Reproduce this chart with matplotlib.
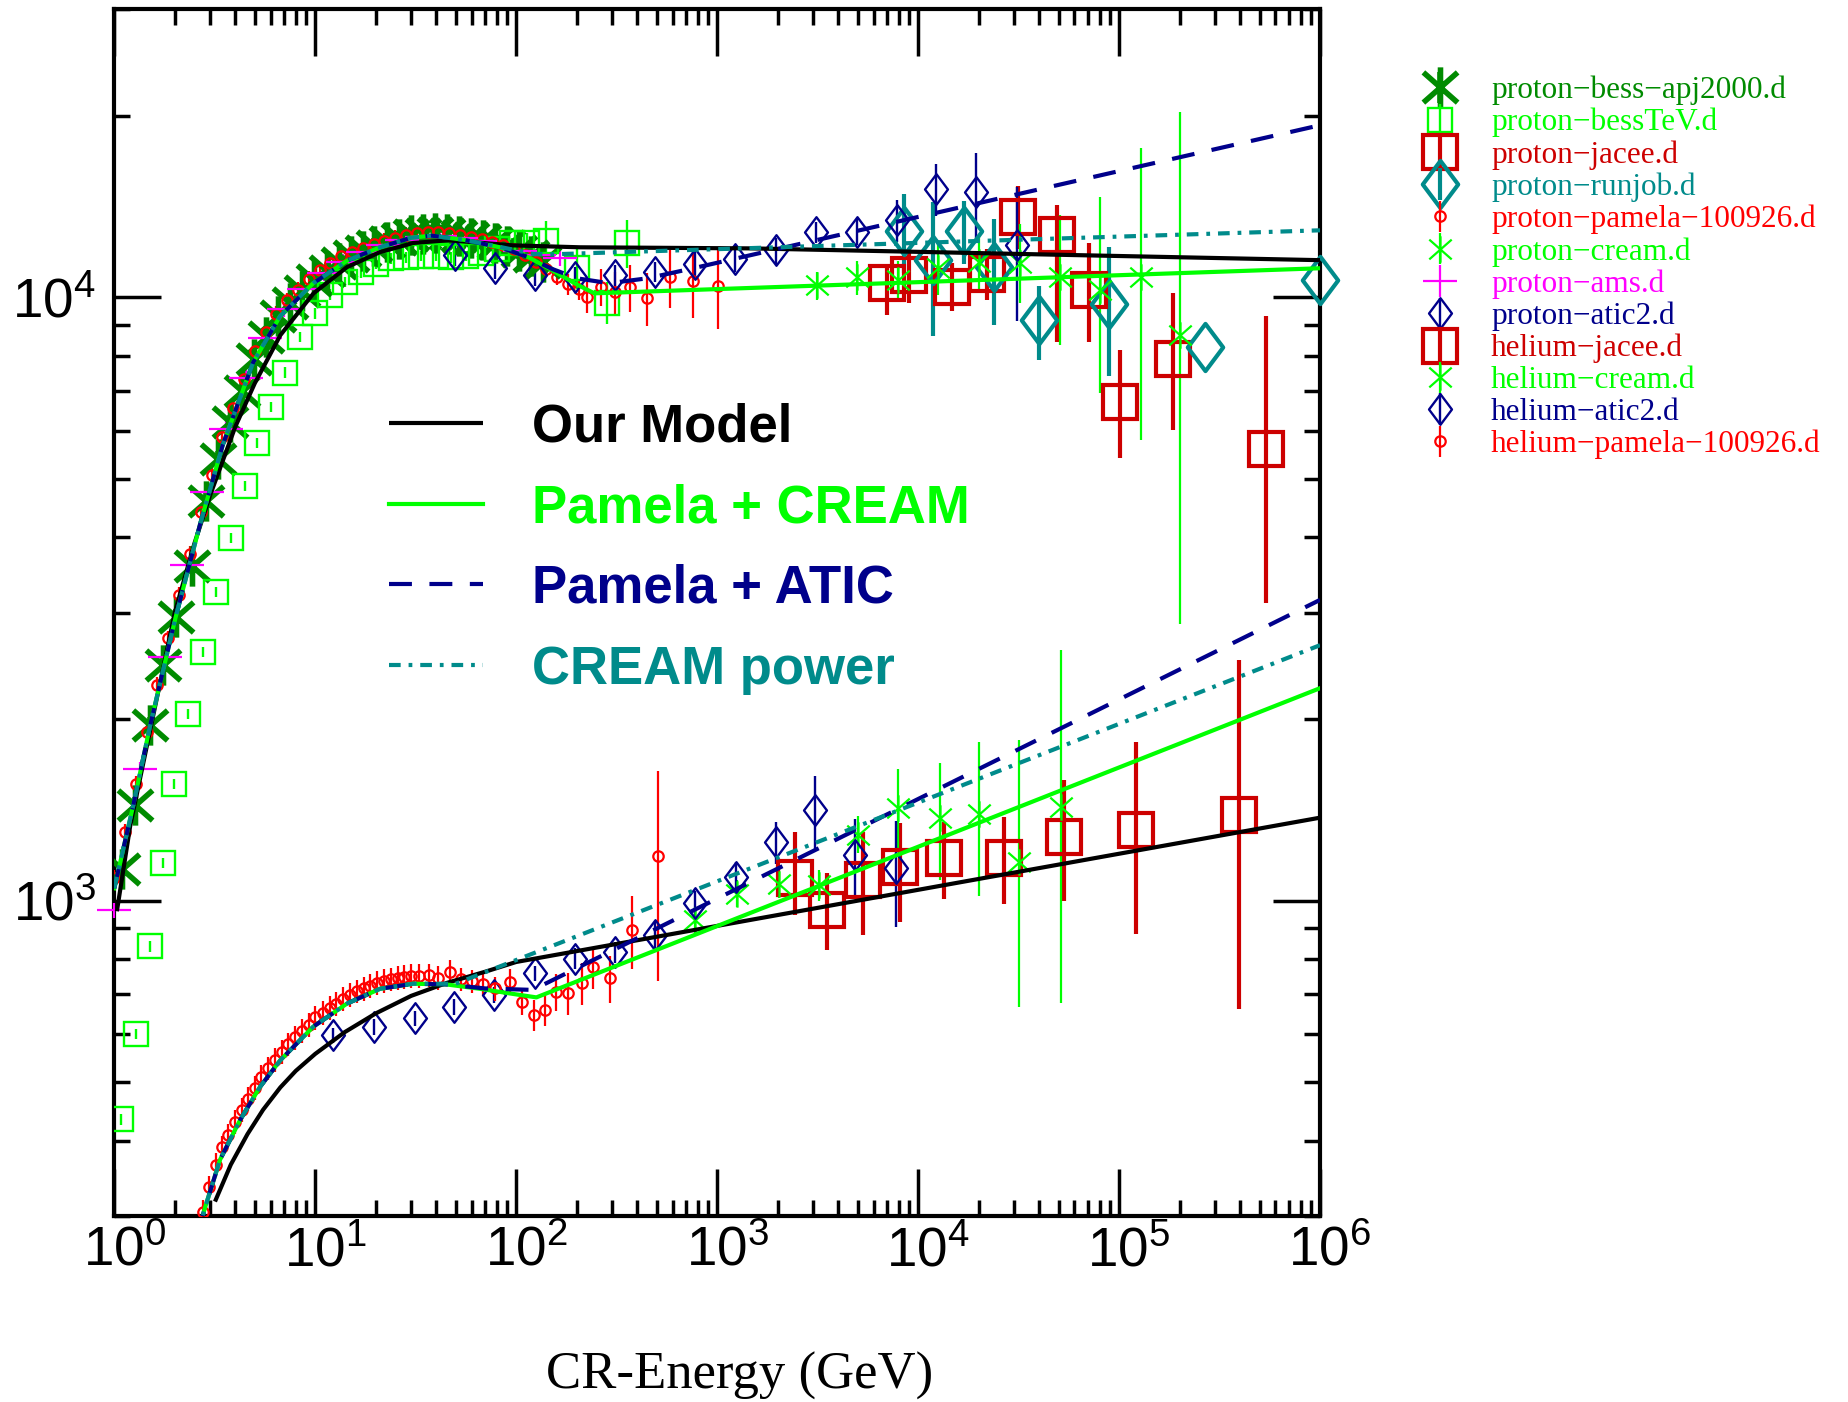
import numpy as np
import matplotlib
matplotlib.use('Agg')
import matplotlib.pyplot as plt
from matplotlib.path import Path
from matplotlib import font_manager
from matplotlib.transforms import ScaledTranslation
from matplotlib.ticker import LogLocator, FixedLocator, NullFormatter, LogFormatterSciNotation

_names = {f.name for f in font_manager.fontManager.ttflist}
NARROW = 'Liberation Sans Narrow' in _names
SANS = 'Liberation Sans Narrow' if NARROW else 'Liberation Sans'

plt.rcParams['font.family'] = [SANS, 'DejaVu Sans']
plt.rcParams['mathtext.fontset'] = 'custom'
plt.rcParams['mathtext.rm'] = SANS
plt.rcParams['mathtext.it'] = SANS + ':italic'
plt.rcParams['mathtext.bf'] = SANS + ':bold'

# ---------------- colours ----------------
C_DKGREEN = '#008b00'
C_LIME = '#00ff00'
C_DKRED = '#cd0000'
C_TEAL = '#008b8b'
C_RED = '#ff0000'
C_MAGENTA = '#ff00ff'
C_NAVY = '#00008b'

# ---------------- axis ticks ----------------
x_major_ticks = [1e0, 1e1, 1e2, 1e3, 1e4, 1e5, 1e6]
y_major_ticks = [1e3, 1e4]

# ---------------- proton data ----------------
bess_E = [1.09, 1.27, 1.51, 1.74, 2.02, 2.43, 2.86, 3.29, 3.77, 4.33, 4.97, 5.71, 6.55, 7.52, 8.63, 9.91,
          11.4, 13.1, 15.0, 17.2, 19.7, 22.7, 26.0, 29.9, 34.3, 39.4, 45.2, 51.9, 59.6, 68.4, 78.5, 90.1,
          103, 119, 136]
bess_F = [1128, 1439, 1955, 2455, 2950, 3580, 4600, 5400, 6200, 7000, 7900, 8600, 9300, 9800, 10250, 10700,
          11050, 11400, 11700, 11950, 12150, 12350, 12500, 12700, 12750, 12800, 12750, 12650, 12550, 12450,
          12300, 12150, 11950, 11700, 11450]
bess_rel = [0.03] * 35

besstev_E = [1.08, 1.275, 1.5, 1.74, 1.99, 2.33, 2.75, 3.19, 3.81, 4.48, 5.12, 6.0, 7.1, 8.4, 10, 11.9, 14.1,
             16.8, 20, 23.7, 28.2, 33.5, 39.8, 47.3, 56, 67, 80, 95, 113, 140, 200, 282, 355]
besstev_F = [434, 601, 840, 1155, 1560, 2037, 2584, 3250, 3990, 4870, 5730, 6580, 7500, 8600, 9400, 10100,
             10600, 11000, 11350, 11600, 11650, 11700, 11700, 11650, 11700, 11850, 12000, 12300, 12300, 12400,
             11200, 9800, 12300]
besstev_rel = [0.02] * 28 + [0.04, 0.08, 0.08, 0.08, 0.09]

jacee_p_E = [7000, 9000, 14700, 22000, 31400, 49200, 70500, 101000, 186000, 537000]
jacee_p_F = [10540, 10900, 10400, 10940, 13590, 12680, 10270, 6700, 7910, 5610]
jacee_p_lo = [9340, 9800, 9500, 9900, 12000, 8430, 8430, 5410, 6020, 3110]
jacee_p_hi = [11300, 12000, 11400, 12000, 15300, 14200, 12280, 8170, 10150, 9310]

runjob_E = [8460, 11900, 17000, 23900, 39800, 89100, 269000, 997000]
runjob_F = [12900, 11520, 12900, 11230, 9160, 9760, 8280, 10670]
runjob_rel = [0.15, 0.25, 0.12, 0.2, 0.14, 0.24, 0.0, 0.0]

pam_p_E = [1.0, 1.13, 1.28, 1.45, 1.64, 1.86, 2.1, 2.38, 2.7, 3.05, 3.45, 3.9, 4.42, 5.0, 5.66, 6.4, 7.25,
           8.2, 9.3, 10.5, 11.9, 13.5, 15.2, 17.2, 19.5, 22.1, 25, 28.3, 32, 36.2, 41, 46.4, 52.5, 59.4, 67.3,
           76.1, 86, 97.5, 110, 125, 141, 160, 181, 205, 226, 263, 310, 368, 450, 580, 760, 1010]
pam_p_F = [1090, 1300, 1560, 1900, 2280, 2720, 3210, 3760, 4400, 5080, 5860, 6550, 7330, 8150, 8750, 9380,
           9880, 10290, 10720, 11080, 11400, 11700, 11900, 12050, 12250, 12400, 12550, 12700, 12800, 12850,
           12850, 12800, 12700, 12600, 12500, 12350, 12200, 12000, 11750, 11450, 11150, 10800, 10500, 10300,
           10000, 10390, 10200, 10390, 9960, 10800, 10630, 10430]
pam_p_rel = [0.03] * 40 + [0.03, 0.03, 0.04, 0.04, 0.06, 0.07, 0.08, 0.09, 0.10, 0.11, 0.13, 0.15]

cream_p_E = [3150, 4990, 7940, 12600, 20200, 32100, 50900, 80000, 128000, 200000]
cream_p_F = [10470, 10800, 10670, 11160, 11440, 11380, 10800, 10270, 10800, 8650]
cream_p_lo = [9900, 10100, 9900, 10100, 10300, 9800, 8330, 6930, 5790, 2870]
cream_p_hi = [11000, 11500, 11500, 12300, 12700, 13200, 13680, 14650, 17700, 20300]

ams_E = [1.0, 1.34, 1.79, 2.3, 2.9, 3.6, 4.5, 5.6, 7.0, 8.8, 11, 13.8, 17.3, 21.7, 27, 34, 42, 53, 66, 83,
         104, 130, 165]
ams_F = [963, 1650, 2530, 3600, 4750, 6050, 7350, 8550, 9550, 10300, 10950, 11450, 11900, 12200, 12450,
         12600, 12650, 12550, 12400, 12200, 11950, 11750, 11600]
ams_rel = [0.03] * 23

atic_p_E = [49.8, 78.6, 124, 196, 310, 490, 776, 1230, 1960, 3100, 4940, 7870, 12250, 19500, 30900]
atic_p_F = [11740, 11170, 10870, 10800, 10870, 11020, 11370, 11590, 11960, 12830, 12830, 13420, 15140,
            14950, 12190]
atic_p_rel = [0.04, 0.04, 0.04, 0.04, 0.04, 0.04, 0.05, 0.05, 0.05, 0.04, 0.05, 0.08, 0.10, 0.16, 0.25]

# ---------------- helium data ----------------
jacee_he_E = [2450, 3530, 5320, 8150, 13500, 26800, 53200, 122000, 396000]
jacee_he_F = [1088, 964, 1081, 1138, 1175, 1175, 1276, 1309, 1385]
jacee_he_lo = [946, 828, 877, 922, 1007, 988, 1000, 881, 662]
jacee_he_hi = [1300, 1110, 1300, 1342, 1350, 1377, 1585, 1832, 2500]

cream_he_E = [780, 1260, 2040, 3210, 5050, 7940, 12800, 20200, 31800, 51300]
cream_he_F = [927, 1027, 1067, 1061, 1283, 1421, 1368, 1394, 1158, 1428]
cream_he_lo = [880, 975, 1010, 1000, 1200, 1220, 1082, 1017, 667, 677]
cream_he_hi = [975, 1080, 1130, 1125, 1380, 1650, 1692, 1832, 1843, 2600]

atic_he_E = [12.3, 19.5, 31.3, 49, 77.6, 124, 196, 310, 490, 780, 1240, 1960, 3070, 4850, 7730]
atic_he_F = [598, 618, 638, 667, 697, 757, 801, 822, 877, 989, 1094, 1250, 1412, 1189, 1131]
atic_he_rel = [0.03] * 6 + [0.04, 0.04, 0.05, 0.05, 0.06, 0.08, 0.14, 0.15, 0.2]

pam_he_E = [2.75, 2.95, 3.2, 3.45, 3.7, 4.0, 4.3, 4.65, 5.0, 5.4, 5.85, 6.3, 6.8, 7.35, 7.95, 8.6, 9.3, 10,
            10.9, 11.8, 12.7, 13.8, 14.9, 16.1, 17.4, 18.8, 20.3, 22, 23.8, 25.7, 27.8, 30, 33, 37, 41, 47,
            53, 60, 68, 78, 93, 107, 122, 139, 158, 181, 212, 242, 293, 376, 509]
pam_he_F = [305, 335, 365, 390, 408, 430, 450, 469, 489, 510, 527, 545, 562, 578, 593, 608, 623, 640, 652,
            664, 675, 688, 698, 707, 715, 723, 731, 737, 741, 745, 748, 750, 750, 752, 745, 762, 740, 735, 728,
            715, 733, 679, 646, 658, 706, 703, 729, 776, 743, 894, 1186]
pam_he_rel = [0.045] * 40 + [0.05, 0.05, 0.06, 0.06, 0.07, 0.08, 0.08, 0.08, 0.09, 0.14, 0.38]

# ---------------- model curves ----------------
model_p_E = [1.03, 1.2, 1.5, 2.0, 2.5, 3.0, 4.0, 5.0, 6.7, 9.8, 14.4, 21, 30.7, 46, 96, 208, 1470, 1e6]
model_p_F = [960, 1330, 1900, 3000, 3900, 4700, 6100, 7200, 8650, 10150, 11220, 11880, 12300, 12430,
             12190, 12100, 12050, 11520]

pc_p_E = [1.0, 1.243, 1.51, 2.02, 2.67, 3.47, 4.91, 6.68, 9.77, 14.4, 21, 30, 38, 55, 83, 115, 150, 200,
          245, 1e6]
pc_p_F = [1048, 1439, 1955, 2950, 4200, 5700, 7800, 9300, 10550, 11500, 12100, 12550, 12650, 12450, 12100,
          11650, 11100, 10500, 10150, 11170]

pa_p_E = [1.0, 1.243, 1.51, 2.02, 2.67, 3.47, 4.91, 6.68, 9.77, 14.4, 21, 30, 38, 55, 83, 115, 150, 200,
          290, 450, 760, 1e6]
pa_p_F = [1048, 1439, 1955, 2950, 4200, 5700, 7800, 9300, 10550, 11500, 12100, 12550, 12650, 12450, 12100,
          11650, 11150, 10750, 10550, 10750, 11170, 19280]

cp_p_E = [1.0, 1.243, 1.51, 2.02, 2.67, 3.47, 4.91, 6.68, 9.77, 14.4, 21, 30, 38, 55, 80, 121, 150, 1e6]
cp_p_F = [1048, 1439, 1955, 2950, 4200, 5700, 7800, 9300, 10550, 11500, 12100, 12550, 12650, 12450, 12150,
          11800, 11780, 12910]

model_he_E = [3.17, 3.8, 4.6, 5.5, 6.7, 8, 10, 14, 20, 30, 45, 70, 100, 1e6]
model_he_F = [317, 365, 410, 450, 490, 522, 557, 605, 650, 695, 730, 762, 791, 1372]

pc_he_E = [2.6, 2.83, 3.36, 4.23, 5.31, 6.68, 9.78, 14.4, 21, 30.7, 45, 66, 97, 126, 1e6]
pc_he_F = [280, 310, 372, 433, 491, 543, 618, 675, 714, 728, 726, 714, 700, 691, 2249]

pa_he_E = [2.6, 2.83, 3.36, 4.23, 5.31, 6.68, 9.78, 14.4, 21, 30.7, 45, 70, 121, 1e6]
pa_he_F = [280, 310, 372, 433, 491, 543, 618, 675, 714, 728, 726, 715, 711, 3150]

cp_he_E = [2.6, 2.83, 3.36, 4.23, 5.31, 6.68, 9.78, 14.4, 21, 30.7, 50, 1e6]
cp_he_F = [280, 310, 372, 433, 491, 543, 618, 675, 714, 728, 728, 2650]

legend_labels = ['proton\u2212bess\u2212apj2000.d', 'proton\u2212bessTeV.d', 'proton\u2212jacee.d',
                 'proton\u2212runjob.d', 'proton\u2212pamela\u2212100926.d', 'proton\u2212cream.d',
                 'proton\u2212ams.d', 'proton\u2212atic2.d', 'helium\u2212jacee.d', 'helium\u2212cream.d',
                 'helium\u2212atic2.d', 'helium\u2212pamela\u2212100926.d']
model_labels = ['Our Model', 'Pamela + CREAM', 'Pamela + ATIC', 'CREAM power']

# ---------------- markers ----------------
AST = Path([(0, -1), (0, 1), (-0.85, -0.75), (0.85, 0.75), (-0.85, 0.75), (0.85, -0.75)],
           [Path.MOVETO, Path.LINETO, Path.MOVETO, Path.LINETO, Path.MOVETO, Path.LINETO])
DIAM = Path([(0, 1), (0.75, 0), (0, -1), (-0.75, 0), (0, 1)],
            [Path.MOVETO, Path.LINETO, Path.LINETO, Path.LINETO, Path.CLOSEPOLY])

fig = plt.figure(figsize=(18.48, 14.02), dpi=100)
ax = fig.add_axes([0.06185, 0.13267, 0.65244, 0.86063])
ax.set_xscale('log')
ax.set_yscale('log')
ax.set_xlim(1, 1e6)
ax.set_ylim(300, 30000)


def rel_err(F, rel):
    F = np.asarray(F, float)
    return F * np.asarray(rel, float)


def lohi_err(F, lo, hi):
    F = np.asarray(F, float)
    return np.vstack([F - np.asarray(lo, float), np.asarray(hi, float) - F])


def draw(E, F, yerr, marker, color, ms, mew, elw, label, clip=True, z=3):
    c = ax.errorbar(E, F, yerr=yerr, marker=marker, linestyle='none', mfc='none', mec=color, ms=ms,
                    mew=mew, ecolor=color, elinewidth=elw, capsize=0, label=label, zorder=z)
    for art in c.get_children():
        art.set_clip_on(clip)
    return c


h = []
h.append(draw(bess_E, bess_F, rel_err(bess_F, bess_rel), AST, C_DKGREEN, 29, 4, 4, legend_labels[0]))
h.append(draw(besstev_E, besstev_F, rel_err(besstev_F, besstev_rel), 's', C_LIME, 17, 1.7, 1.7, legend_labels[1]))
h.append(draw(jacee_p_E, jacee_p_F, lohi_err(jacee_p_F, jacee_p_lo, jacee_p_hi), 's', C_DKRED, 25, 3, 3,
              legend_labels[2]))
h.append(draw(runjob_E, runjob_F, rel_err(runjob_F, runjob_rel), DIAM, C_TEAL, 34, 3, 3, legend_labels[3],
              clip=False))
h.append(draw(pam_p_E, pam_p_F, rel_err(pam_p_F, pam_p_rel), 'o', C_RED, 7.5, 1.6, 1.6, legend_labels[4]))
h.append(draw(cream_p_E, cream_p_F, lohi_err(cream_p_F, cream_p_lo, cream_p_hi), AST, C_LIME, 19, 1.6, 1.6,
              legend_labels[5]))
h.append(draw(ams_E, ams_F, rel_err(ams_F, ams_rel), '_', C_MAGENTA, 25, 1.6, 1.6, legend_labels[6],
              clip=False))
h.append(draw(atic_p_E, atic_p_F, rel_err(atic_p_F, atic_p_rel), DIAM, C_NAVY, 22, 1.7, 1.7, legend_labels[7]))
h.append(draw(jacee_he_E, jacee_he_F, lohi_err(jacee_he_F, jacee_he_lo, jacee_he_hi), 's', C_DKRED, 25, 3, 3,
              legend_labels[8]))
h.append(draw(cream_he_E, cream_he_F, lohi_err(cream_he_F, cream_he_lo, cream_he_hi), AST, C_LIME, 19, 1.6,
              1.6, legend_labels[9]))
h.append(draw(atic_he_E, atic_he_F, rel_err(atic_he_F, atic_he_rel), DIAM, C_NAVY, 22, 1.7, 1.7,
              legend_labels[10]))
h.append(draw(pam_he_E, pam_he_F, rel_err(pam_he_F, pam_he_rel), 'o', C_RED, 7.5, 1.6, 1.6, legend_labels[11]))

LW = 3.0
l_model, = ax.plot(model_p_E, model_p_F, color='black', lw=LW, zorder=6, solid_capstyle='butt')
ax.plot(model_he_E, model_he_F, color='black', lw=LW, zorder=6, solid_capstyle='butt')
l_pc, = ax.plot(pc_p_E, pc_p_F, color=C_LIME, lw=LW, zorder=7)
ax.plot(pc_he_E, pc_he_F, color=C_LIME, lw=LW, zorder=7)
l_pa, = ax.plot(pa_p_E, pa_p_F, color=C_NAVY, lw=LW, zorder=8, dashes=(5.5, 4.2))
ax.plot(pa_he_E, pa_he_F, color=C_NAVY, lw=LW, zorder=8, dashes=(5.5, 4.2))
l_cp, = ax.plot(cp_p_E, cp_p_F, color=C_TEAL, lw=LW, zorder=9, dashes=(2.8, 1.9, 0.9, 1.9))
ax.plot(cp_he_E, cp_he_F, color=C_TEAL, lw=LW, zorder=9, dashes=(2.8, 1.9, 0.9, 1.9))

# ---------------- axes styling ----------------
for sp in ax.spines.values():
    sp.set_linewidth(3)
ax.xaxis.set_major_locator(FixedLocator(x_major_ticks))
ax.xaxis.set_minor_locator(LogLocator(base=10, subs=np.arange(2, 10), numticks=20))
ax.yaxis.set_major_locator(FixedLocator(y_major_ticks))
ax.yaxis.set_minor_locator(LogLocator(base=10, subs=np.arange(2, 10), numticks=20))
ax.xaxis.set_major_formatter(LogFormatterSciNotation())
ax.yaxis.set_major_formatter(LogFormatterSciNotation())
ax.xaxis.set_minor_formatter(NullFormatter())
ax.yaxis.set_minor_formatter(NullFormatter())
ax.tick_params(which='both', direction='in', top=True, right=True, width=2.5)
ax.tick_params(which='major', length=34, labelsize=(42 if NARROW else 39.5))
ax.tick_params(which='minor', length=11.5)
ax.tick_params(axis='x', which='major', pad=7)
ax.tick_params(axis='y', which='major', pad=13)

# shift x tick labels slightly right so that the base "10" sits under the tick
_shift = ScaledTranslation(10 / 100.0, 0, fig.dpi_scale_trans)
for lab in ax.get_xticklabels():
    lab.set_transform(lab.get_transform() + _shift)

ax.set_xlabel('CR-Energy (GeV)', fontfamily='Liberation Serif', fontsize=38)
ax.xaxis.set_label_coords(0.519, -0.113)

# ---------------- legends ----------------
if NARROW:
    fs1, hl1, htp1, ls1, top1 = 44, 1.54, 0.82, 0.38, 0.676
else:
    fs1, hl1, htp1, ls1, top1 = 38, 1.77, 0.94, 0.58, 0.674
leg1 = ax.legend([l_model, l_pc, l_pa, l_cp], model_labels, loc='upper left',
                 bbox_to_anchor=(0.228, top1), frameon=False, borderpad=0, borderaxespad=0,
                 handlelength=hl1, handletextpad=htp1, labelspacing=ls1,
                 prop=dict(family=SANS, weight='bold', size=fs1))
for t, c in zip(leg1.get_texts(), ['black', C_LIME, C_NAVY, C_TEAL]):
    t.set_color(c)
ax.add_artist(leg1)

leg2 = ax.legend(h, legend_labels, loc='upper left', bbox_to_anchor=(1424.4 / 1848, 1 - 75.7 / 1402),
                 bbox_transform=fig.transFigure, frameon=False, borderpad=0, borderaxespad=0,
                 handlelength=1.0, handletextpad=1.13, labelspacing=0.089, numpoints=1,
                 prop=dict(family='Liberation Serif', size=22.5))
for t, c in zip(leg2.get_texts(), [C_DKGREEN, C_LIME, C_DKRED, C_TEAL, C_RED, C_LIME, C_MAGENTA, C_NAVY,
                                   C_DKRED, C_LIME, C_NAVY, C_RED]):
    t.set_color(c)

fig.savefig('out.png', dpi=100)
